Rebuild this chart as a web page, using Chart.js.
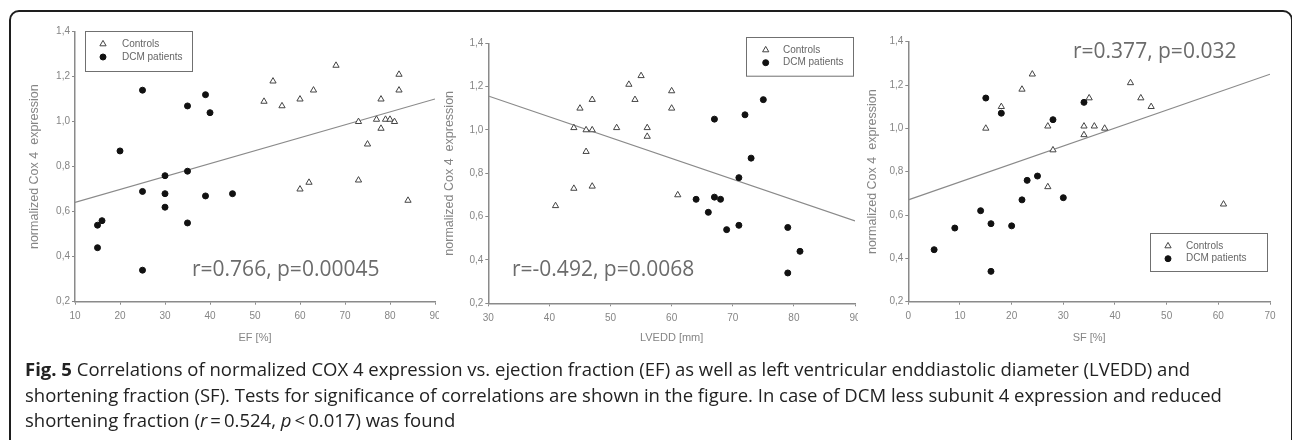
<!DOCTYPE html>
<html>
<head>
<meta charset="utf-8">
<script src="https://cdn.jsdelivr.net/npm/chart.js@4.4.1/dist/chart.umd.min.js"></script>
<style>
  html, body { margin: 0; padding: 0; background: #fff; }
  body { width: 1292px; height: 440px; position: relative; overflow: hidden; font-family: "Open Sans", sans-serif; }
  #frame { position: absolute; left: 9px; top: 10px; width: 1284px; height: 480px; border: 2px solid #1e1e1e; border-radius: 10px; box-sizing: border-box; pointer-events: none; }
  .clip { position: absolute; top: 0; height: 360px; overflow: hidden; }
  .clip > div { position: absolute; left: 0; top: 0; height: 360px; }
  .stat { position: absolute; font-size: 21px; line-height: 21px; color: #6b6b6b; white-space: nowrap; }
  #caption { position: absolute; left: 25px; top: 356px; width: 1245px; font-size: 18.5px; line-height: 25.5px; color: #222; }
  #caption b { font-weight: 700; }
</style>
</head>
<body>
<div class="clip" style="left:12px;width:427px"><div style="width:470px"><canvas id="efChart"></canvas></div></div>
<div class="clip" style="left:439px;width:419px"><div style="width:450px"><canvas id="lveddChart"></canvas></div></div>
<div class="clip" style="left:858px;width:432px"><div style="width:432px"><canvas id="sfChart"></canvas></div></div>

<div class="stat" style="left:192px;top:258px">r=0.766, p=0.00045</div>
<div class="stat" style="left:512px;top:258px">r=-0.492, p=0.0068</div>
<div class="stat" style="left:1073px;top:39.5px">r=0.377, p=0.032</div>

<div id="caption"><b>Fig. 5</b> Correlations of normalized COX 4 expression vs. ejection fraction (EF) as well as left ventricular enddiastolic diameter (LVEDD) and shortening fraction (SF). Tests for significance of correlations are shown in the figure. In case of DCM less subunit 4 expression and reduced shortening fraction (<i>r</i>&#8201;=&#8201;0.524, <i>p</i>&#8201;&lt;&#8201;0.017) was found</div>
<div id="frame"></div>

<script>
// y ticks (shared)
const coxTicks = ['0,2', '0,4', '0,6', '0,8', '1,0', '1,2', '1,4'];

// EF panel
const efControls = [52, 54, 56, 60, 63, 68, 60, 62, 73, 73, 75, 77, 78, 78, 79, 80, 81, 82, 82, 84];
const coxEfControls = [1.09, 1.18, 1.07, 1.10, 1.14, 1.25, 0.70, 0.73, 1.00, 0.74, 0.90, 1.01, 1.10, 0.97, 1.01, 1.01, 1.00, 1.21, 1.14, 0.65];
const efPatients = [15, 16, 15, 20, 25, 25, 25, 30, 30, 30, 35, 35, 35, 39, 39, 40, 45];
const coxEfPatients = [0.54, 0.56, 0.44, 0.87, 1.14, 0.69, 0.34, 0.76, 0.68, 0.62, 1.07, 0.78, 0.55, 1.12, 0.67, 1.04, 0.68];
const efFit = [10, 90];
const coxEfFit = [0.641, 1.101];

// LVEDD panel
const lveddControls = [41, 44, 44, 45, 46, 46, 47, 47, 47, 51, 53, 54, 55, 56, 56, 60, 60, 61];
const coxLveddControls = [0.65, 1.01, 0.73, 1.10, 1.00, 0.90, 1.14, 1.00, 0.74, 1.01, 1.21, 1.14, 1.25, 1.01, 0.97, 1.18, 1.10, 0.70];
const lveddPatients = [67, 75, 72, 73, 71, 64, 67, 68, 66, 69, 71, 79, 81, 79];
const coxLveddPatients = [1.05, 1.14, 1.07, 0.87, 0.78, 0.68, 0.69, 0.68, 0.62, 0.54, 0.56, 0.55, 0.44, 0.34];
const lveddFit = [30, 90];
const coxLveddFit = [1.157, 0.58];

// SF panel
const sfControls = [15, 18, 22, 24, 27, 27, 28, 34, 34, 35, 36, 38, 43, 45, 47, 61];
const coxSfControls = [1.00, 1.10, 1.18, 1.25, 1.01, 0.73, 0.90, 1.01, 0.97, 1.14, 1.01, 1.00, 1.21, 1.14, 1.10, 0.65];
const sfPatients = [15, 18, 28, 34, 25, 23, 22, 30, 14, 16, 20, 9, 5, 16];
const coxSfPatients = [1.14, 1.07, 1.04, 1.12, 0.78, 0.76, 0.67, 0.68, 0.62, 0.56, 0.55, 0.54, 0.44, 0.34];
const sfFit = [0, 70];
const coxSfFit = [0.67, 1.25];

const axisGray = '#8a8a8a';
const textGray = '#858585';

function pts(xs, ys) {
    return xs.map((x, i) => ({ x: x, y: ys[i] }));
}

// legend box drawn inside the plot
const boxLegend = {
    id: 'boxLegend',
    afterDatasetsDraw(chart, args, o) {
        const ctx = chart.ctx;
        ctx.save();
        ctx.fillStyle = '#fff';
        ctx.strokeStyle = '#707070';
        ctx.lineWidth = 1;
        ctx.fillRect(o.x, o.y, o.w, o.h);
        ctx.strokeRect(Math.round(o.x) + 0.5, Math.round(o.y) + 0.5, o.w, o.h);
        const items = chart.data.datasets.filter(d => d.label);
        items.forEach((ds, i) => {
            const y = o.y + o.rowTop + i * o.rowGap;
            ctx.fillStyle = ds.backgroundColor;
            ctx.strokeStyle = ds.borderColor;
            ctx.lineWidth = ds.borderWidth;
            Chart.helpers.drawPoint(ctx, { pointStyle: ds.pointStyle, radius: ds.pointRadius, borderWidth: ds.borderWidth, rotation: 0 }, o.x + o.markX, y);
            ctx.fillStyle = '#666';
            ctx.font = '10px Arial, "Liberation Sans", sans-serif';
            ctx.textBaseline = 'middle';
            ctx.textAlign = 'left';
            ctx.fillText(ds.label, o.x + o.textX, y);
        });
        ctx.restore();
    }
};

function makeChart(id, cfg) {
    return new Chart(document.getElementById(id), {
        type: 'scatter',
        data: {
            datasets: [
                {
                    data: pts(cfg.fitX, cfg.fitY),
                    showLine: true,
                    borderColor: '#8a8a8a',
                    borderWidth: 1.2,
                    pointRadius: 0,
                    order: 3
                },
                {
                    label: 'Controls',
                    data: pts(cfg.ctrlX, cfg.ctrlY),
                    pointStyle: 'triangle',
                    pointRadius: 3.6,
                    backgroundColor: '#fff',
                    borderColor: '#444',
                    borderWidth: 1,
                    order: 2
                },
                {
                    label: 'DCM patients',
                    data: pts(cfg.dcmX, cfg.dcmY),
                    pointStyle: 'circle',
                    pointRadius: 3,
                    backgroundColor: '#111',
                    borderColor: '#111',
                    borderWidth: 1,
                    order: 1
                }
            ]
        },
        options: {
            responsive: true,
            maintainAspectRatio: false,
            animation: false,
            layout: { padding: cfg.pad },
            plugins: {
                legend: { display: false },
                tooltip: { enabled: false },
                boxLegend: cfg.legend
            },
            scales: {
                x: {
                    type: 'linear',
                    min: cfg.xMin,
                    max: cfg.xMax,
                    afterFit: s => { s.height = cfg.xH; },
                    ticks: { stepSize: 10, color: textGray, font: { size: 10, family: 'Arial' }, padding: 6, maxRotation: 0 },
                    grid: { drawOnChartArea: false, tickLength: 3, color: axisGray },
                    border: { color: axisGray, width: 1.5 },
                    title: { display: true, text: cfg.xTitle, color: textGray, font: { size: 11, family: 'Arial', lineHeight: 1.2 }, padding: 0 }
                },
                y: {
                    min: 0.2,
                    max: 1.4,
                    afterFit: s => { s.width = cfg.yW; },
                    ticks: { stepSize: 0.2, color: textGray, font: { size: 10, family: 'Arial' }, padding: 2, callback: (v, i) => coxTicks[i] },
                    grid: { drawOnChartArea: false, tickLength: 3, color: axisGray },
                    border: { color: axisGray, width: 1.5 },
                    title: { display: true, text: 'normalized Cox 4  expression', color: textGray, font: { size: 12.5, family: 'Arial', lineHeight: 1.2 }, padding: 0 }
                }
            }
        },
        plugins: [boxLegend]
    });
}

makeChart('efChart', {
    ctrlX: efControls, ctrlY: coxEfControls, dcmX: efPatients, dcmY: coxEfPatients,
    fitX: efFit, fitY: coxEfFit, xMin: 10, xMax: 90, xTitle: 'EF [%]',
    pad: { left: 15.5, right: 47, top: 31.7, bottom: 15.1 }, yW: 47.5, xH: 43.2,
    legend: { x: 73, y: 30.7, w: 107, h: 40, markX: 18, textX: 37, rowTop: 13.3, rowGap: 13 }
});

makeChart('lveddChart', {
    ctrlX: lveddControls, ctrlY: coxLveddControls, dcmX: lveddPatients, dcmY: coxLveddPatients,
    fitX: lveddFit, fitY: coxLveddFit, xMin: 30, xMax: 90, xTitle: 'LVEDD [mm]',
    pad: { left: 3.5, right: 34, top: 43.3, bottom: 15.1 }, yW: 45.8, xH: 41.6,
    legend: { x: 307, y: 37, w: 107, h: 38.7, markX: 19.7, textX: 37, rowTop: 13, rowGap: 12.7 }
});

makeChart('sfChart', {
    ctrlX: sfControls, ctrlY: coxSfControls, dcmX: sfPatients, dcmY: coxSfPatients,
    fitX: sfFit, fitY: coxSfFit, xMin: 0, xMax: 70, xTitle: 'SF [%]',
    pad: { left: 7.5, right: 20, top: 41.7, bottom: 15.1 }, yW: 42.8, xH: 43.2,
    legend: { x: 292, y: 232.7, w: 117, h: 38, markX: 18, textX: 36, rowTop: 13.3, rowGap: 12.7 }
});
</script>
</body>
</html>
